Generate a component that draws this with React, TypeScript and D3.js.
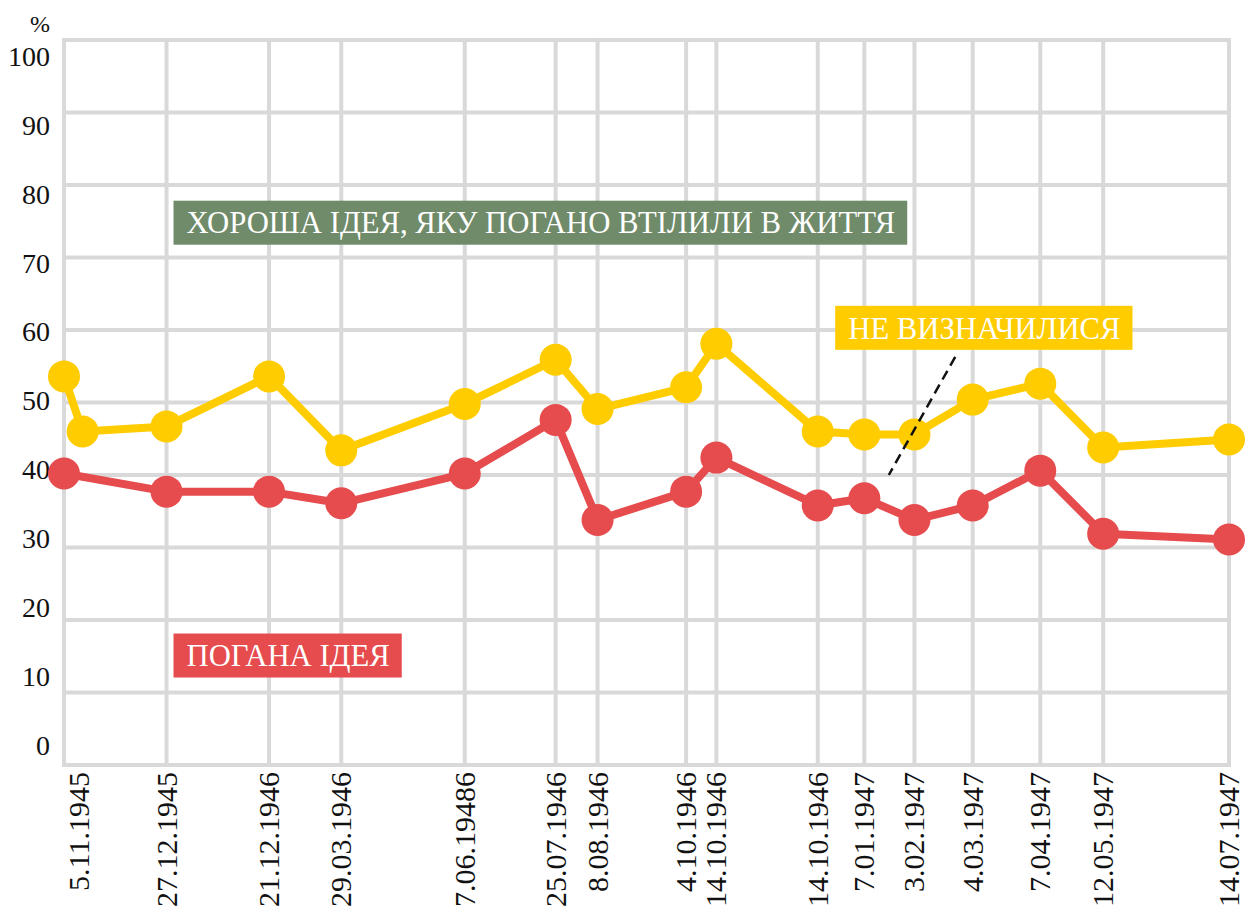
import React, { useLayoutEffect, useRef, useState } from 'react';
import * as d3 from 'd3';

// survey dates, as printed on the original
const dateLabels = [
  '5.11.1945', '27.12.1945', '21.12.1946', '29.03.1946', '7.06.19486', '25.07.1946',
  '8.08.1946', '4.10.1946', '14.10.1946', '14.10.1946', '7.01.1947', '3.02.1947',
  '4.03.1947', '7.04.1947', '12.05.1947', '14.07.1947',
];
// position of each survey along the (non-linear) time axis, 0..100
const datePos = [0, 8.8, 17.6, 23.8, 34.4, 42.2, 45.8, 53.4, 56.0, 64.7, 68.7, 73.0, 78.0, 83.8, 89.2, 100];

// "ПОГАНА ІДЕЯ", %
const badIdea = [40.2, 37.7, 37.7, 36.1, 40.2, 47.6, 33.8, 37.7, 42.4, 35.8, 36.8, 33.8, 35.8, 40.6, 31.9, 31.1];

// "НЕ ВИЗНАЧИЛИСЯ", % (one extra survey right after the first one)
const undecidedPos = [0, 1.6, 8.8, 17.6, 23.8, 34.4, 42.2, 45.8, 53.4, 56.0, 64.7, 68.7, 73.0, 78.0, 83.8, 89.2, 100];
const undecided = [53.6, 46.0, 46.7, 53.6, 43.4, 49.8, 55.9, 49.1, 52.1, 58.1, 46.0, 45.6, 45.6, 50.4, 52.6, 43.8, 44.9];

const yTicks = [0, 10, 20, 30, 40, 50, 60, 70, 80, 90, 100];

const labels = [
  { text: 'ХОРОША ІДЕЯ, ЯКУ ПОГАНО ВТІЛИЛИ В ЖИТТЯ', pos: 9.4, value: 74.8, fill: '#6f8b69' },
  { text: 'НЕ ВИЗНАЧИЛИСЯ', pos: 66.2, value: 60.3, fill: '#ffcc00' },
  { text: 'ПОГАНА ІДЕЯ', pos: 9.4, value: 15.1, fill: '#e64c4e' },
];

const WIDTH = 1245;
const HEIGHT = 906;

const x = d3.scaleLinear().domain([0, 100]).range([64, 1229]);
const y = d3.scaleLinear().domain([0, 100]).range([765, 40]);
// tick labels sit on their own, slightly tighter ladder
const yLab = d3.scaleLinear().domain([0, 100]).range([745, 56]);

const line = d3.line<[number, number]>().x(d => x(d[0])).y(d => y(d[1]));

const Series: React.FC<{ pos: number[]; vals: number[]; color: string }> = ({ pos, vals, color }) => {
  const pts = vals.map((v, i) => [pos[i], v] as [number, number]);
  return (
    <g>
      <path d={line(pts) || ''} fill="none" stroke={color} strokeWidth={8} strokeLinejoin="round" />
      {pts.map((d, i) => (
        <circle key={i} cx={x(d[0])} cy={y(d[1])} r={16} fill={color} />
      ))}
    </g>
  );
};

const App: React.FC = () => {
  const textRefs = useRef<(SVGTextElement | null)[]>([]);
  const [widths, setWidths] = useState<number[]>(labels.map(() => 0));

  useLayoutEffect(() => {
    setWidths(labels.map((_, i) => textRefs.current[i]?.getComputedTextLength() || 0));
  }, []);

  return (
    <svg
      width={WIDTH}
      height={HEIGHT}
      fontFamily="Liberation Serif"
      style={{ display: 'block', position: 'absolute', left: 0, top: 0, background: '#fff', fontFamily: 'Liberation Serif' }}
    >
      <g stroke="#d9d9d9" strokeWidth={4} strokeLinecap="square">
        {yTicks.map(t => (
          <line key={'h' + t} x1={x(0)} x2={x(100)} y1={y(t)} y2={y(t)} />
        ))}
        {datePos.map((p, i) => (
          <line key={'v' + i} x1={x(p)} x2={x(p)} y1={y(100)} y2={y(0)} />
        ))}
      </g>

      {yTicks.map(t => (
        <text key={'yl' + t} x={50} y={yLab(t)} dy="0.35em" textAnchor="end" fill="#111" fontSize={28}>
          {t}
        </text>
      ))}
      <text x={40} y={32} textAnchor="middle" fill="#111" fontSize={24}>%</text>

      {dateLabels.map((d, i) => (
        <text
          key={'xl' + i}
          transform={`translate(${x(datePos[i]) + (i === 0 ? 25 : 10)},772) rotate(-90)`}
          textAnchor="end"
          fill="#111"
          fontSize={30}
        >
          {d}
        </text>
      ))}

      <Series pos={datePos} vals={badIdea} color="#e64c4e" />
      <Series pos={undecidedPos} vals={undecided} color="#ffcc00" />

      {/* pointer from the undecided label to its line */}
      <line x1={x(76.5)} y1={y(56.3)} x2={x(70.8)} y2={y(40.0)} stroke="#111" strokeWidth={2.5} strokeDasharray="10,6" />

      {labels.map((l, i) => (
        <g key={'lab' + i}>
          <rect x={x(l.pos)} y={y(l.value) - 22} height={44} width={widths[i] ? widths[i] + 25 : 0} fill={l.fill} />
          <text
            ref={el => { textRefs.current[i] = el; }}
            x={x(l.pos) + 13}
            y={y(l.value)}
            dy="0.35em"
            fill="#fff"
            fontSize={30.7}
          >
            {l.text}
          </text>
        </g>
      ))}
    </svg>
  );
};

export default App;
